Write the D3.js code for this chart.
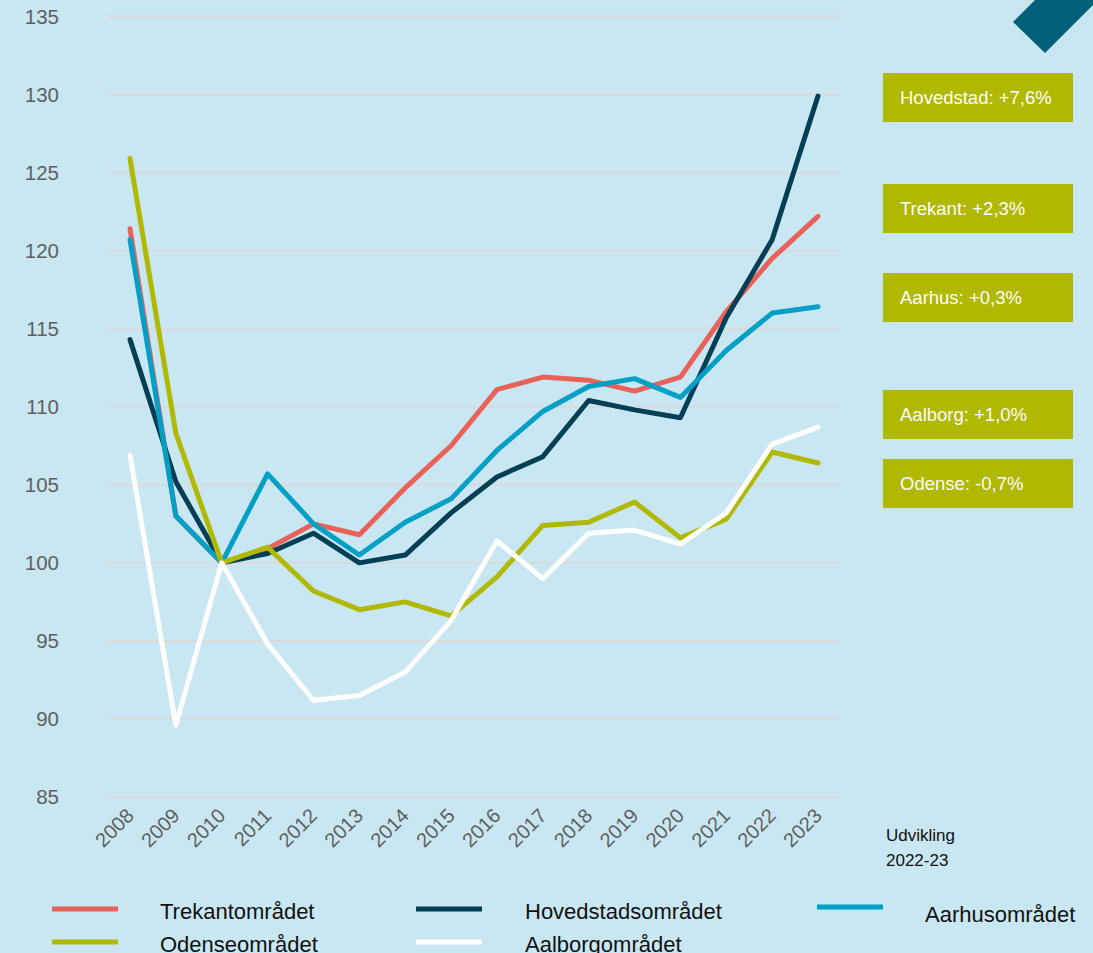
<!DOCTYPE html>
<html>
<head>
<meta charset="utf-8">
<script src="https://cdn.jsdelivr.net/npm/d3@7"></script>
<style>
  html, body { margin: 0; padding: 0; background: #c9e7f3; }
  svg { display: block; font-family: "Liberation Sans", Arial, sans-serif; }
  .grid line { stroke: #dadada; stroke-width: 2px; }
  .tick-y { fill: #5f5f5f; font-size: 20.5px; }
  .tick-x { fill: #5f5f5f; font-size: 20px; }
  .series { fill: none; stroke-width: 5px; stroke-linejoin: round; stroke-linecap: round; }
  .badge-text { fill: #fff; font-size: 18.5px; }
  .legend-text { fill: #111; font-size: 22px; }
</style>
</head>
<body>
<svg id="chart" width="1093" height="953"></svg>
<script>
  const years = d3.range(2008, 2024);
  const yTicks = [85, 90, 95, 100, 105, 110, 115, 120, 125, 130, 135];

  const trekant    = [121.4, 103.0, 100, 100.9, 102.5, 101.8, 104.8, 107.5, 111.1, 111.9, 111.7, 111.0, 111.9, 116.1, 119.5, 122.2];
  const hovedstad  = [114.3, 105.2, 100, 100.6, 101.9, 100.0, 100.5, 103.2, 105.5, 106.8, 110.4, 109.8, 109.3, 115.7, 120.7, 129.9];
  const aarhus     = [120.7, 103.0, 100, 105.7, 102.5, 100.5, 102.6, 104.1, 107.2, 109.7, 111.3, 111.8, 110.6, 113.6, 116.0, 116.4];
  const odense     = [125.9, 108.3, 100, 101.0, 98.2, 97.0, 97.5, 96.6, 99.1, 102.4, 102.6, 103.9, 101.6, 102.8, 107.1, 106.4];
  const aalborg    = [106.9, 89.6, 100, 94.8, 91.2, 91.5, 93.0, 96.3, 101.4, 99.0, 101.9, 102.1, 101.2, 103.2, 107.6, 108.7];

  const seriesNames  = ["Trekantområdet", "Hovedstadsområdet", "Aarhusområdet", "Odenseområdet", "Aalborgområdet"];
  const seriesColors = ["#e8625a", "#003f54", "#00a0c6", "#b0b800", "#ffffff"];
  const seriesValues = [trekant, hovedstad, aarhus, odense, aalborg];

  const badgeLabels = ["Hovedstad: +7,6%", "Trekant: +2,3%", "Aarhus: +0,3%", "Aalborg: +1,0%", "Odense: -0,7%"];
  const badgeTops   = [73, 184, 273, 390, 459];

  const svg = d3.select("#chart");

  const x = d3.scaleLinear().domain([2008, 2023]).range([130, 818]);
  const y = d3.scaleLinear().domain([85, 135]).range([797, 16.5]);

  // gridlines
  svg.append("g").attr("class", "grid")
    .selectAll("line").data(yTicks).join("line")
    .attr("x1", 107).attr("x2", 840)
    .attr("y1", d => y(d)).attr("y2", d => y(d));

  // y labels
  svg.append("g").selectAll("text").data(yTicks).join("text")
    .attr("class", "tick-y")
    .attr("x", 59).attr("y", d => y(d))
    .attr("dy", "0.35em")
    .attr("text-anchor", "end")
    .text(d => d);

  // x labels, rotated
  svg.append("g").selectAll("text").data(years).join("text")
    .attr("class", "tick-x")
    .attr("text-anchor", "end")
    .attr("transform", d => `translate(${x(d) + 5},${817}) rotate(-45)`)
    .text(d => d);

  const line = d3.line()
    .x((d, i) => x(years[i]))
    .y(d => y(d));

  svg.append("g").selectAll("path").data(seriesValues).join("path")
    .attr("class", "series")
    .attr("stroke", (d, i) => seriesColors[i])
    .attr("d", line);

  // badges
  const badges = svg.append("g").selectAll("g").data(badgeLabels).join("g")
    .attr("transform", (d, i) => `translate(883,${badgeTops[i]})`);
  badges.append("rect")
    .attr("width", 190).attr("height", 49)
    .attr("fill", "#b0b800");
  badges.append("text")
    .attr("class", "badge-text")
    .attr("x", 17).attr("y", 25).attr("dy", "0.35em")
    .text(d => d);

  svg.append("text").attr("x", 886).attr("y", 841)
    .attr("font-size", 17).attr("fill", "#111").text("Udvikling");
  svg.append("text").attr("x", 886).attr("y", 866)
    .attr("font-size", 17).attr("fill", "#111").text("2022-23");

  // corner decoration
  svg.append("polygon")
    .attr("points", "1035,0 1013,22 1045,53 1093,5 1093,0")
    .attr("fill", "#00607a");

  // legend
  const legendPos = [[52, 909], [416, 909], [817, 907], [52, 942], [416, 942]];
  const textX = [160, 525, 925, 160, 525];
  const legend = svg.append("g").selectAll("g").data(seriesNames).join("g");
  legend.append("line")
    .attr("x1", (d, i) => legendPos[i][0]).attr("x2", (d, i) => legendPos[i][0] + 66)
    .attr("y1", (d, i) => legendPos[i][1]).attr("y2", (d, i) => legendPos[i][1])
    .attr("stroke", (d, i) => seriesColors[i])
    .attr("stroke-width", 5);
  legend.append("text")
    .attr("class", "legend-text")
    .attr("x", (d, i) => textX[i])
    .attr("y", (d, i) => legendPos[i][1] + (i === 2 ? 8 : 3))
    .attr("dy", "0.3em")
    .text(d => d);
</script>
</body>
</html>
